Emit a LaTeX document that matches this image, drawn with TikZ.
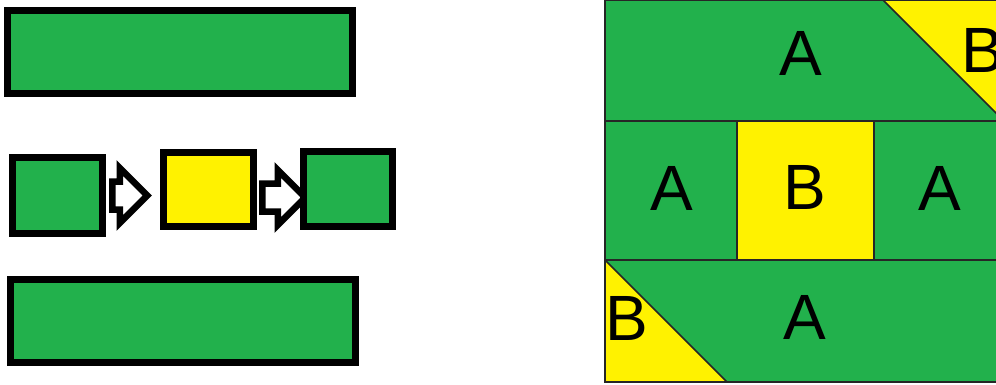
\documentclass[tikz,border=0pt]{standalone}
\usepackage{fontspec}
\setmainfont{Liberation Sans}
\usetikzlibrary{shapes.arrows}
\definecolor{paintgreen}{HTML}{22B14C}
\definecolor{paintyellow}{HTML}{FFF200}

\begin{document}
\begin{tikzpicture}[x=1pt,y=-1pt,
  greenbox/.style={draw,line width=7pt,fill=paintgreen},
  yellowbox/.style={draw,line width=7pt,fill=paintyellow},
  flow/.style={single arrow,draw,fill=white,line width=6.5pt,inner xsep=0pt,inner ysep=10.75pt,single arrow head extend=13.5pt,anchor=west},
  tile/.style={draw=black!85,line width=1.5pt},
  lbl/.style={font=\fontsize{64}{64}\selectfont,inner sep=0pt}]
 \useasboundingbox (0,0) rectangle (996,384);
 % left: bars and the little chain
 \node[greenbox,minimum width=345pt,minimum height=83pt] (topbar) at (180,52) {};
 \node[greenbox,minimum width=345pt,minimum height=83pt] (lowbar) at (183,321) {};
 \node[greenbox,minimum width=90pt,minimum height=76pt] (first) at (57.5,195.5) {};
 \node[flow,minimum height=35pt] (push1) at ([xshift=3pt]first.east) {};
 \node[yellowbox,minimum width=90pt,minimum height=74pt] (middle) at (208.5,189.5) {};
 \node[flow,minimum height=43pt] (push2) at ([xshift=2pt,yshift=-8pt]middle.east) {};
 \node[greenbox,minimum width=89pt,minimum height=75pt] (last) at (348,189) {};
 % right: the tiling
 \fill[paintgreen] (605,0) rectangle (1000,382);
 \draw[tile,fill=paintyellow] (883,0) -- (1004,121) -- (1004,0) -- cycle;
 \draw[tile,fill=paintyellow] (737,121) rectangle (874,260);
 \draw[tile,fill=paintyellow] (605,260) -- (727,382) -- (605,382) -- cycle;
 \draw[tile] (605,121) -- (1000,121) (605,260) -- (1000,260);
 \draw[tile] (605,0) rectangle (1000,382);
 \node[lbl] (a1) at (801,53) {A};
 \node[lbl] (b1) at (983,50) {B};
 \node[lbl] (a2) at (672,188) {A};
 \node[lbl] (b2) at (805,187) {B};
 \node[lbl] (a3) at (940,188) {A};
 \node[lbl] (b3) at (626.5,318) {B};
 \node[lbl] (a4) at (805,317) {A};
\end{tikzpicture}
\end{document}
